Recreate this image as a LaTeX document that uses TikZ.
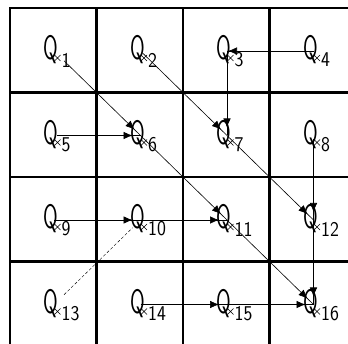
\documentclass[tikz,border=0pt]{standalone}
\usepackage{graphicx}
\usetikzlibrary{arrows.meta,decorations.markings,shapes.misc}

\tikzset{
  grid line/.style={line width=2.8pt},
  flow/.style={line width=0.6pt,postaction={decorate},
    decoration={markings,mark=at position -#1 with {\arrow{Latex[length=9pt,width=7.5pt]}}}},
  flow/.default=8pt,
  qletter/.style={inner sep=0pt,font=\sffamily\fontsize{34}{34}\selectfont},
  qnum/.style={inner sep=0pt,anchor=west,font=\sffamily\fontsize{21}{21}\selectfont},
  qmark/.style={cross out,draw,line width=0.5pt,minimum size=5.5pt,inner sep=0pt},
}

\begin{document}
\begin{tikzpicture}[x=1pt,y=-1pt]
  \useasboundingbox (0,0) rectangle (348,344);
  % grid
  \draw[grid line] (10,344) -- (10,8) -- (348,8);
  \foreach \gx in {96.5,183,269.5} \draw[grid line] (\gx,8) -- (\gx,344);
  \foreach \gy in {92.5,177,261.5} \draw[grid line] (10,\gy) -- (348,\gy);
  % the sixteen points
  \foreach \n in {1,...,16}{
    \pgfmathtruncatemacro\cc{mod(\n-1,4)}
    \pgfmathtruncatemacro\rr{div(\n-1,4)}
    \coordinate (p\n) at ({54+86.5*\cc},{51+84.5*\rr});
    \node[qletter] (q\n) at ([shift={(-3,-1)}]p\n) {\scalebox{0.62}[1]{Q}};
    \node[qmark] (x\n) at ([shift={(3.5,7)}]p\n) {};
    \node[qnum] (n\n) at ([shift={(7.5,9)}]p\n) {\scalebox{0.9}[1]{\n}};
  }
  % connections
  \draw[flow,shorten <=14pt] (p1) -- (p6);
  \draw[flow] (p6) -- (p11);
  \draw[flow] (p11) -- (p16);
  \draw[flow,shorten <=3pt] (p2) -- (p7);
  \draw[flow] (p7) -- (p12);
  \draw[flow=1pt] (p4) -- (p3);
  \draw[flow] (p3) -- (p7);
  \draw[flow,shorten <=3pt] (p5) -- (p6);
  \draw[flow,shorten <=4pt] (p8) -- (p12);
  \draw[flow] (p12) -- (p16);
  \draw[flow] (p9) -- (p10);
  \draw[flow] (p10) -- (p11);
  \draw[flow] (p14) -- (p15);
  \draw[flow] (p15) -- (p16);
  \draw[densely dashed,line width=0.4pt,shorten <=14pt,shorten >=11pt] (p13) -- (p10);
\end{tikzpicture}
\end{document}
